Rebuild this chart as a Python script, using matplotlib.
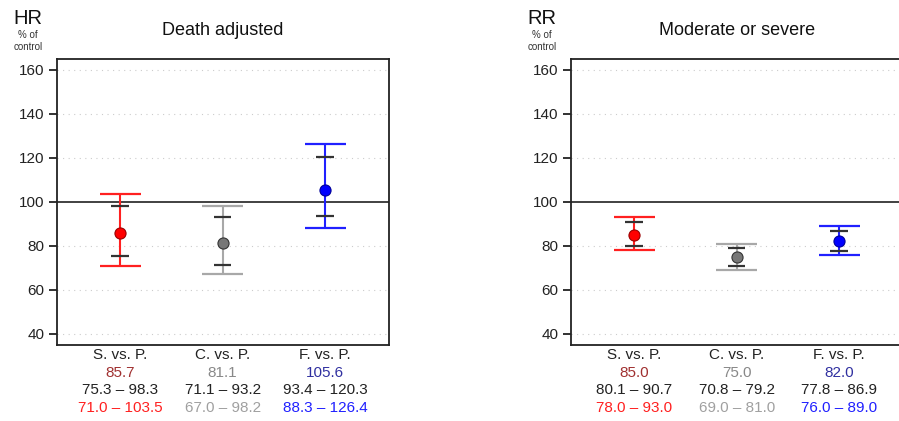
import numpy as np
import matplotlib.pyplot as plt
from matplotlib.transforms import blended_transform_factory, ScaledTranslation

plt.rcParams['font.family'] = ['Liberation Sans', 'DejaVu Sans']

# comparisons
groups = ['S. vs. P.', 'C. vs. P.', 'F. vs. P.']

# panel 1: death adjusted (HR)
hr_est = [85.7, 81.1, 105.6]
hr_in_lo = [75.3, 71.1, 93.4]
hr_in_hi = [98.3, 93.2, 120.3]
hr_out_lo = [71.0, 67.0, 88.3]
hr_out_hi = [103.5, 98.2, 126.4]

# panel 2: moderate or severe (RR)
rr_est = [85.0, 75.0, 82.0]
rr_in_lo = [80.1, 70.8, 77.8]
rr_in_hi = [90.7, 79.2, 86.9]
rr_out_lo = [78.0, 69.0, 76.0]
rr_out_hi = [93.0, 81.0, 89.0]

yticks = [40, 60, 80, 100, 120, 140, 160]

line_cols = ['#ff2020', '#a8a8a8', '#2020ff']
dot_cols = ['#ff0000', '#777777', '#0000ff']
dot_edge = ['#990000', '#333333', '#000099']
est_cols = ['#a03030', '#888888', '#3030a0']
ci2_cols = ['#ff2020', '#a0a0a0', '#2020ff']

fig = plt.figure(figsize=(8.99, 4.21), dpi=100)


def panel(left, width, title, ylab, est, in_lo, in_hi, out_lo, out_hi):
    ax = fig.add_axes([left, 0.181, width, 0.679])
    x = np.arange(1, 4)
    # keep the same data scale when the panel runs off the right edge
    ax.set_xlim(0.385, 0.385 + 3.235 * width / 0.369)
    ax.set_ylim(35, 165)
    for yv in yticks:
        if yv != 100:
            ax.axhline(yv, color='#cccccc', lw=0.8, ls=(0, (1, 4)), zorder=0)
    ax.axhline(100, color='#333333', lw=1.3, zorder=1)
    for i in range(3):
        c = line_cols[i]
        ax.vlines(x[i], out_lo[i], out_hi[i], color=c, lw=1.5, zorder=2)
        ax.hlines([out_lo[i], out_hi[i]], x[i] - 0.2, x[i] + 0.2, color=c, lw=1.6, zorder=2)
        ax.hlines([in_lo[i], in_hi[i]], x[i] - 0.085, x[i] + 0.085, color='#333333', lw=1.6, zorder=3)
        ax.plot(x[i], est[i], 'o', ms=8, mfc=dot_cols[i], mec=dot_edge[i], mew=0.8, zorder=4)
    ax.set_xticks([])
    ax.set_yticks(yticks)
    ax.tick_params(axis='y', direction='out', length=6, width=1.3, labelsize=11, colors='#222222', pad=3)
    for s in ax.spines.values():
        s.set_linewidth(1.3)
        s.set_color('#222222')
    tr = blended_transform_factory(ax.transData, ax.transAxes)
    ax.text(2, 1.1, title, transform=tr, ha='center', va='center', fontsize=13, color='#111111')
    left_tr = ax.transAxes + ScaledTranslation(-0.29, 0, fig.dpi_scale_trans)
    ax.text(0, 1.143, ylab, transform=left_tr, ha='center', va='center', fontsize=14.5, color='#111111')
    ax.text(0, 1.062, '% of\ncontrol', transform=left_tr, ha='center', va='center',
            fontsize=7, color='#333333', linespacing=1.2)
    for i in range(3):
        ax.text(x[i], -0.035, groups[i], transform=tr, ha='center', va='center', fontsize=11, color='#222222')
        ax.text(x[i], -0.098, '%.1f' % est[i], transform=tr, ha='center', va='center', fontsize=11, color=est_cols[i])
        ax.text(x[i], -0.158, '%.1f \u2013 %.1f' % (in_lo[i], in_hi[i]), transform=tr, ha='center', va='center',
                fontsize=11, color='#222222')
        ax.text(x[i], -0.222, '%.1f \u2013 %.1f' % (out_lo[i], out_hi[i]), transform=tr, ha='center', va='center',
                fontsize=11, color=ci2_cols[i])
    return ax


panel(0.0634, 0.369, 'Death adjusted', 'HR', hr_est, hr_in_lo, hr_in_hi, hr_out_lo, hr_out_hi)
panel(0.6352, 0.375, 'Moderate or severe', 'RR', rr_est, rr_in_lo, rr_in_hi, rr_out_lo, rr_out_hi)

fig.savefig('out.png', dpi=100)
